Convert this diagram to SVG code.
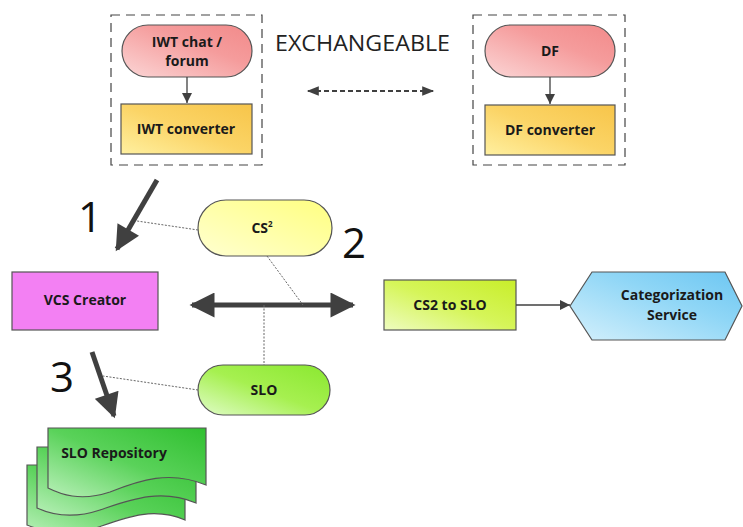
<svg xmlns="http://www.w3.org/2000/svg" width="743" height="527" viewBox="0 0 743 527">
<defs>
<linearGradient id="gPink" x1="0" y1="1" x2="1" y2="0"><stop offset="0" stop-color="#fbd6d6"/><stop offset="0.6" stop-color="#f59c9c"/><stop offset="1" stop-color="#f28a8a"/></linearGradient>
<linearGradient id="gGold" x1="0" y1="1" x2="1" y2="0"><stop offset="0" stop-color="#fff0a0"/><stop offset="0.5" stop-color="#fbd466"/><stop offset="1" stop-color="#f7c54a"/></linearGradient>
<linearGradient id="gYellow" x1="0" y1="1" x2="1" y2="0"><stop offset="0" stop-color="#ffffd0"/><stop offset="1" stop-color="#ffff80"/></linearGradient>
<linearGradient id="gLime" x1="0" y1="1" x2="1" y2="0"><stop offset="0" stop-color="#eefcc0"/><stop offset="0.5" stop-color="#d6f55a"/><stop offset="1" stop-color="#c8ee2a"/></linearGradient>
<linearGradient id="gBlue" x1="0" y1="1" x2="1" y2="0"><stop offset="0" stop-color="#d4f0fc"/><stop offset="0.6" stop-color="#8fd6f6"/><stop offset="1" stop-color="#6cc6f2"/></linearGradient>
<linearGradient id="gGreen" x1="0" y1="1" x2="1" y2="0"><stop offset="0" stop-color="#e0fcc8"/><stop offset="0.5" stop-color="#a6f050"/><stop offset="1" stop-color="#8ae830"/></linearGradient>
<linearGradient id="gRepo" x1="0" y1="1" x2="1" y2="0"><stop offset="0" stop-color="#b8f0b8"/><stop offset="0.5" stop-color="#5ad25a"/><stop offset="1" stop-color="#30c030"/></linearGradient>
<marker id="mSmall" viewBox="0 0 10 10" refX="10" refY="5" markerWidth="10" markerHeight="10" markerUnits="userSpaceOnUse" orient="auto"><path d="M0,0 L10,5 L0,10 z" fill="#404040"/></marker>
<marker id="mBig" viewBox="0 0 10 10" refX="9" refY="5" markerWidth="5.5" markerHeight="5" orient="auto-start-reverse"><path d="M0,0 L10,5 L0,10 z" fill="#404040"/></marker>
<marker id="mDash" viewBox="0 0 10 10" refX="9" refY="5" markerWidth="14" markerHeight="12" markerUnits="userSpaceOnUse" orient="auto-start-reverse"><path d="M0,1 L10,5 L0,9 z" fill="#404040"/></marker>
</defs>
<style>
.lbl{font-family:"Open Sans","Liberation Sans",sans-serif;font-weight:bold;font-size:14px;fill:#1a1a1a;text-anchor:middle}
.num{font-family:"Open Sans","Liberation Sans",sans-serif;font-size:42px;fill:#111}
.box{stroke:#555;stroke-width:1.2}
.dashbox{fill:none;stroke:#444;stroke-width:1.2;stroke-dasharray:9 6}
.dot{fill:none;stroke:#666;stroke-width:1;stroke-dasharray:2 1.5}
.thin{stroke:#404040;stroke-width:1.3;fill:none}
.big{stroke:#404040;stroke-width:5;fill:none}
</style>
<rect width="743" height="527" fill="#ffffff"/>
<g id="group-iwt"><rect class="dashbox" x="111" y="15" width="151" height="150"/></g>
<g id="group-df"><rect class="dashbox" x="473" y="15" width="152" height="150"/></g>
<g id="iwt-chat"><rect class="box" x="122" y="25" width="130" height="52" rx="26" fill="url(#gPink)"/><text class="lbl" x="187" y="47">IWT chat /</text><text class="lbl" x="187" y="66">forum</text></g>
<g id="iwt-converter"><rect class="box" x="121" y="104" width="131" height="50" fill="url(#gGold)"/><text class="lbl" x="186" y="134">IWT converter</text></g>
<g id="df"><rect class="box" x="485" y="25" width="130" height="52" rx="26" fill="url(#gPink)"/><text class="lbl" x="550" y="56">DF</text></g>
<g id="df-converter"><rect class="box" x="485" y="105" width="130" height="50" fill="url(#gGold)"/><text class="lbl" x="550" y="135">DF converter</text></g>
<g id="exchangeable"><text x="275" y="51" font-family="Open Sans, Liberation Sans, sans-serif" font-size="21" fill="#222" textLength="175" lengthAdjust="spacingAndGlyphs">EXCHANGEABLE</text></g>
<g id="cs2"><rect class="box" x="198" y="200" width="134" height="56" rx="28" fill="url(#gYellow)"/><text class="lbl" x="262" y="233">CS<tspan font-size="8" dy="-6">2</tspan></text></g>
<g id="vcs-creator"><rect class="box" x="12" y="272" width="146" height="58" fill="#f380f3"/><text class="lbl" x="85" y="305">VCS Creator</text></g>
<g id="cs2-to-slo"><rect class="box" x="384" y="280" width="132" height="50" fill="url(#gLime)"/><text class="lbl" x="450" y="310">CS2 to SLO</text></g>
<g id="categorization"><polygon class="box" points="570,306 592,272 725,272 742,306 725,340 592,340" fill="url(#gBlue)"/><text class="lbl" x="672" y="300">Categorization</text><text class="lbl" x="672" y="320">Service</text></g>
<g id="slo"><rect class="box" x="198" y="365" width="132" height="50" rx="25" fill="url(#gGreen)"/><text class="lbl" x="264" y="395">SLO</text></g>
<g id="slo-repository">
<path class="box" fill="url(#gRepo)" d="M27,465 H185 V520 C150,505 120,520 90,530 C60,538 40,530 27,525 Z"/>
<path class="box" fill="url(#gRepo)" d="M37,447 H196 V503 C160,488 130,500 100,510 C70,520 50,514 37,508 Z"/>
<path class="box" fill="url(#gRepo)" d="M48,428 H206 V485 C170,470 140,480 110,492 C80,502 60,494 48,488 Z"/>
<text class="lbl" x="114" y="458">SLO Repository</text>
</g>
<g id="numbers"><text class="num" x="78" y="232">1</text><text class="num" x="342" y="258">2</text><text class="num" x="50" y="392">3</text></g>
<g id="connectors">
<line class="thin" x1="187" y1="77" x2="187" y2="103" marker-end="url(#mSmall)"/>
<line class="thin" x1="550" y1="77" x2="550" y2="104" marker-end="url(#mSmall)"/>
<line x1="308" y1="91" x2="433" y2="91" stroke="#404040" stroke-width="2" stroke-dasharray="5 3" marker-start="url(#mDash)" marker-end="url(#mDash)"/>
<line class="big" x1="157" y1="180" x2="117" y2="249" marker-end="url(#mBig)"/>
<line class="big" x1="192" y1="305" x2="353" y2="305" marker-start="url(#mBig)" marker-end="url(#mBig)"/>
<line class="big" x1="92" y1="352" x2="114" y2="416" marker-end="url(#mBig)"/>
<line class="thin" x1="516" y1="305" x2="570" y2="305" marker-end="url(#mSmall)"/>
<line class="dot" x1="198" y1="230" x2="137" y2="221"/>
<line class="dot" x1="267" y1="256" x2="303" y2="305"/>
<line class="dot" x1="264" y1="305" x2="264" y2="365"/>
<line class="dot" x1="198" y1="390" x2="103" y2="376"/>
</g>
</svg>
